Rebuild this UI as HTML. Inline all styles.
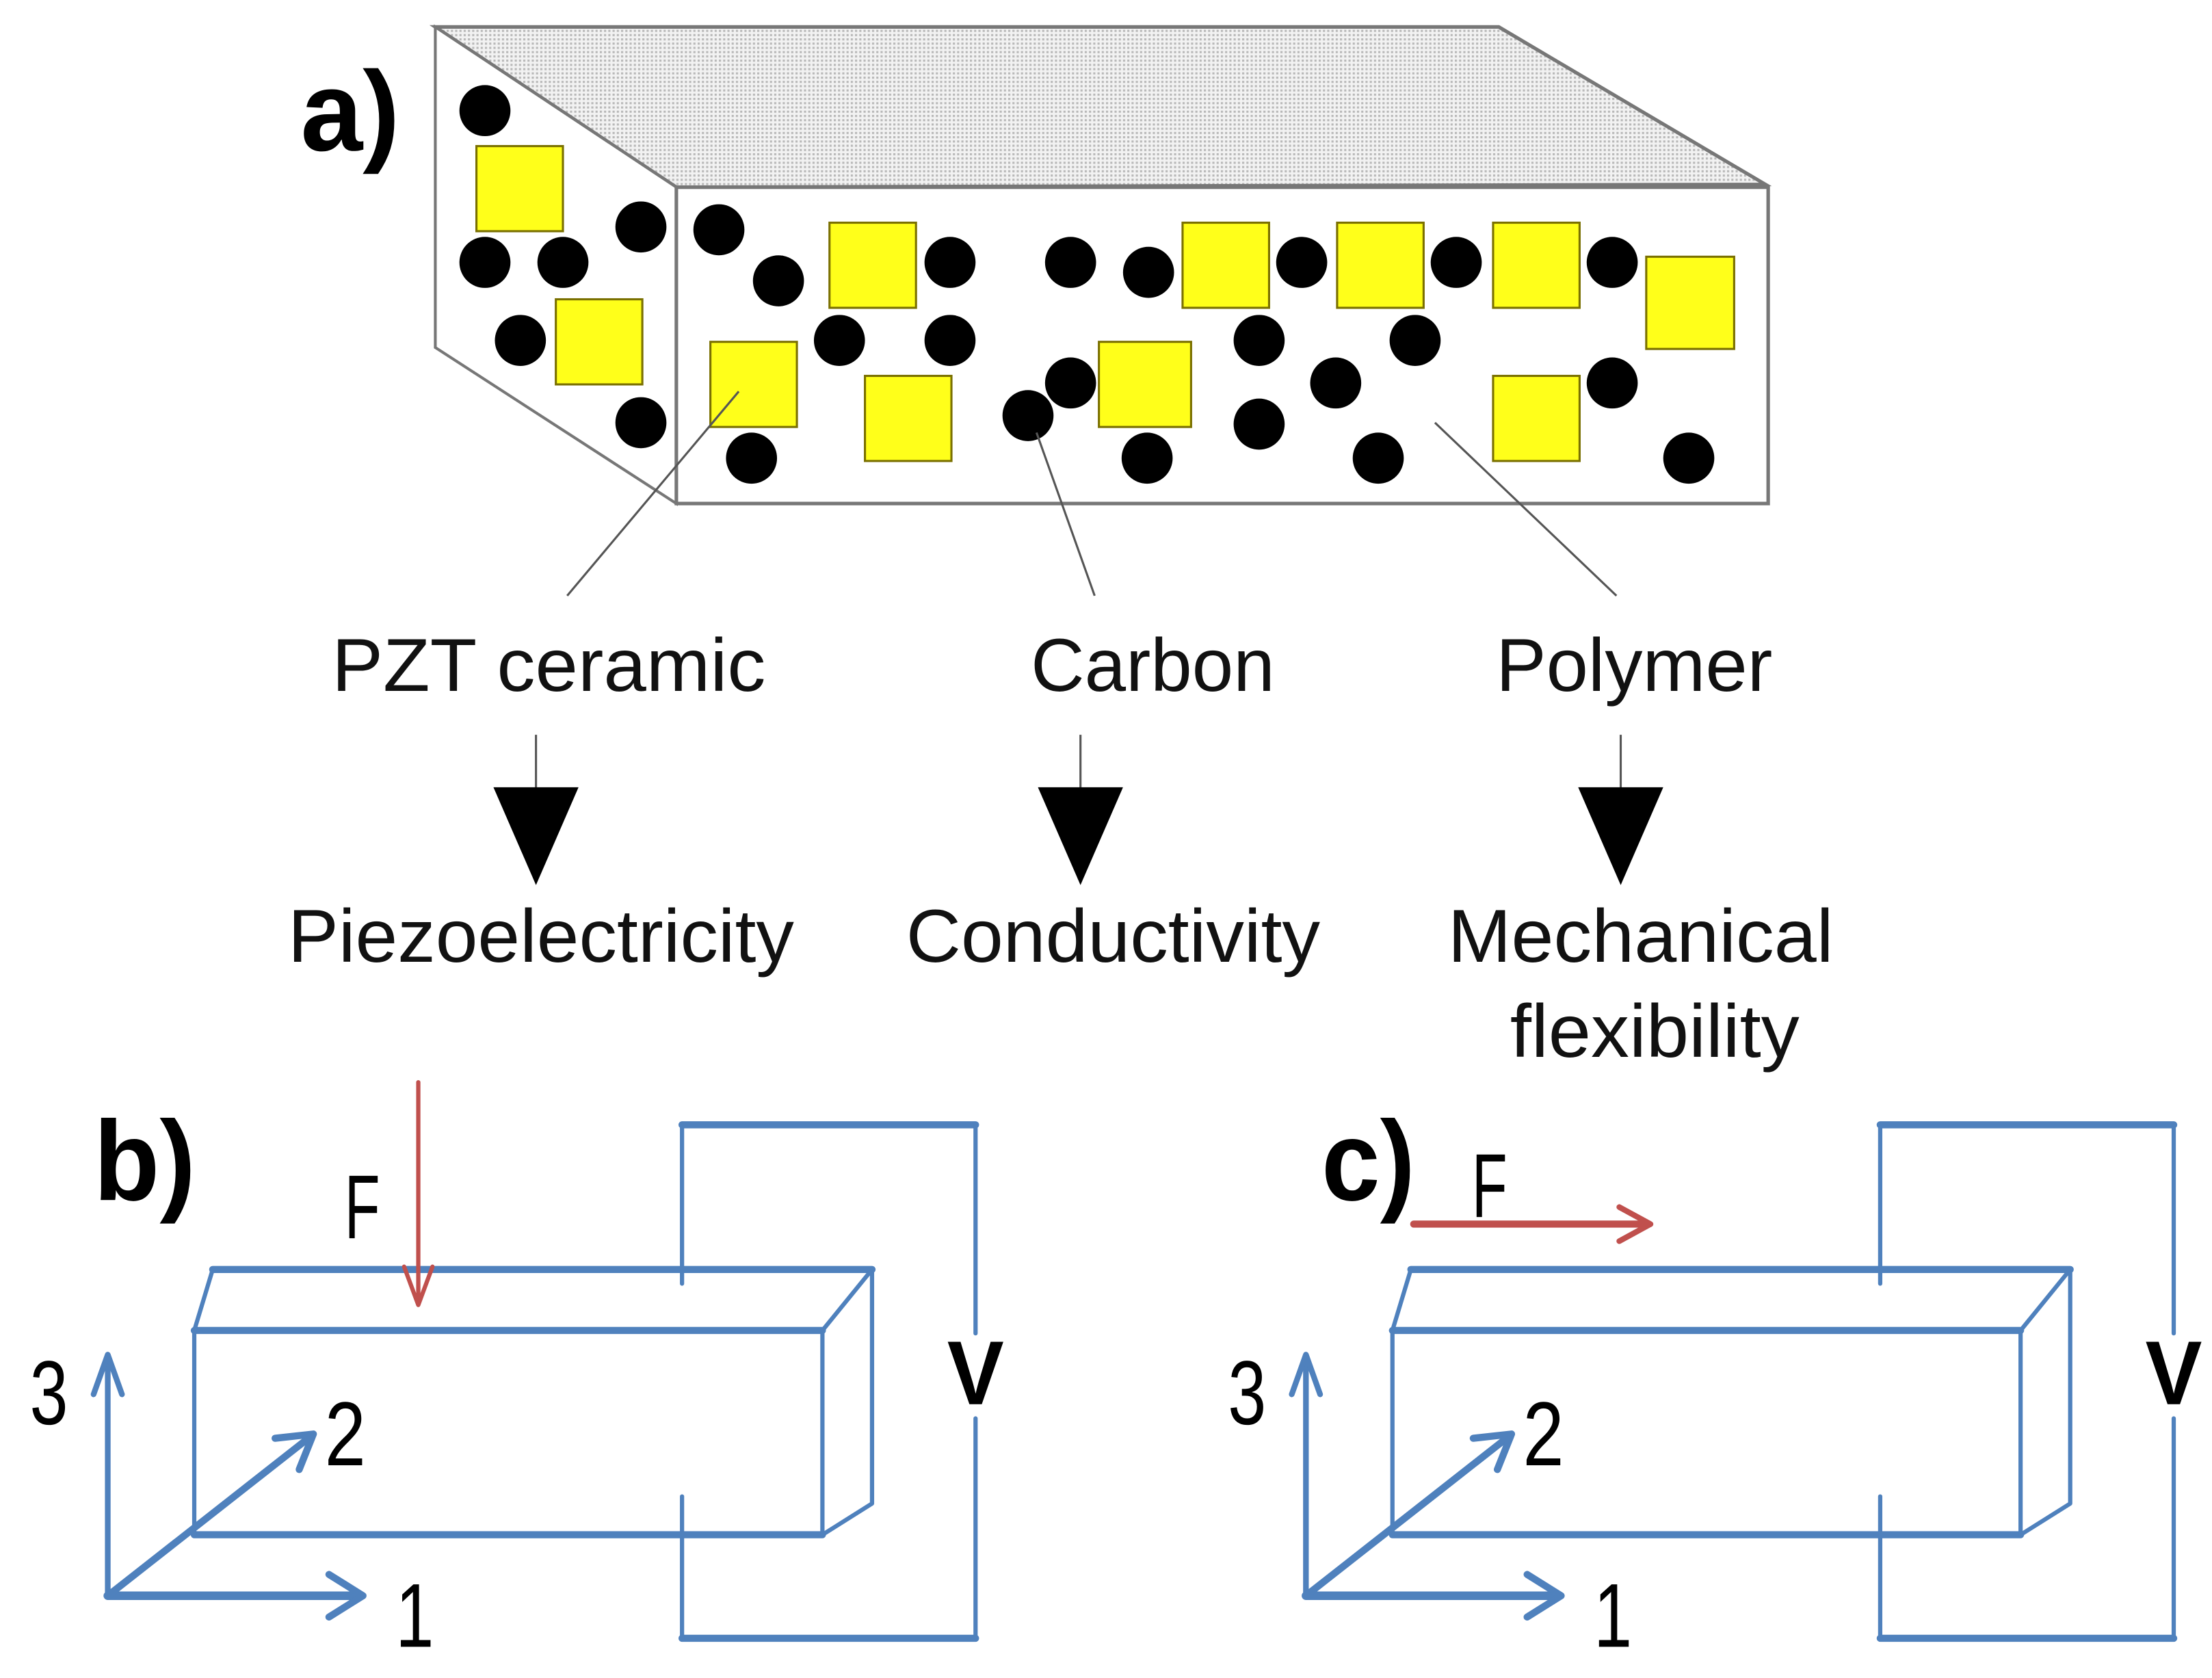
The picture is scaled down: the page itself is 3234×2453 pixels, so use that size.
<!DOCTYPE html>
<html><head><meta charset="utf-8"><style>
html,body{margin:0;padding:0;background:#fff;}
svg{display:block;}
.lbl{font-family:"Liberation Sans",Arial,sans-serif;font-size:53px;fill:#111;}
.bold{font-family:"Liberation Sans",sans-serif;font-weight:bold;font-size:80px;fill:#000;}
.num{font-family:"Liberation Sans",sans-serif;font-size:64px;fill:#000;}
</style></head><body>
<svg width="3234" height="2453" viewBox="0 0 1560 1183" preserveAspectRatio="none" xmlns="http://www.w3.org/2000/svg">
<defs>
<pattern id="dots" width="3" height="3" patternUnits="userSpaceOnUse">
<rect width="3" height="3" fill="#f2f2f2"/><rect width="1.5" height="1.5" fill="#b8b8b8"/>
</pattern>
</defs>
<!-- a) box -->
<polygon points="307,19 1057,19 1245,130 477,132" fill="url(#dots)" stroke="#777" stroke-width="2.5"/>
<polygon points="307,19 477,132 477,355 307,245" fill="#fff" stroke="#777" stroke-width="2"/>
<rect x="477" y="132" width="770" height="223" fill="#fff" stroke="#777" stroke-width="2.5"/>
<g fill="#ffff1a" stroke="#7a7000" stroke-width="1.5">
<rect x="336" y="103" width="61" height="60"/>
<rect x="392" y="211" width="61" height="60"/>
<rect x="585" y="157" width="61" height="60"/>
<rect x="501" y="241" width="61" height="60"/>
<rect x="610" y="265" width="61" height="60"/>
<rect x="775" y="241" width="65" height="60"/>
<rect x="834" y="157" width="61" height="60"/>
<rect x="943" y="157" width="61" height="60"/>
<rect x="1053" y="157" width="61" height="60"/>
<rect x="1161" y="181" width="62" height="65"/>
<rect x="1053" y="265" width="61" height="60"/>
</g>
<g fill="#000">
<circle cx="342" cy="78" r="18"/><circle cx="342" cy="185" r="18"/><circle cx="397" cy="185" r="18"/>
<circle cx="452" cy="160" r="18"/><circle cx="367" cy="240" r="18"/><circle cx="452" cy="298" r="18"/>
<circle cx="507" cy="162" r="18"/><circle cx="549" cy="198" r="18"/><circle cx="670" cy="185" r="18"/>
<circle cx="592" cy="240" r="18"/><circle cx="670" cy="240" r="18"/><circle cx="530" cy="323" r="18"/>
<circle cx="755" cy="185" r="18"/><circle cx="810" cy="192" r="18"/><circle cx="755" cy="270" r="18"/>
<circle cx="725" cy="293" r="18"/><circle cx="809" cy="323" r="18"/><circle cx="888" cy="240" r="18"/>
<circle cx="918" cy="185" r="18"/><circle cx="998" cy="240" r="18"/><circle cx="942" cy="270" r="18"/>
<circle cx="888" cy="299" r="18"/><circle cx="972" cy="323" r="18"/><circle cx="1027" cy="185" r="18"/>
<circle cx="1137" cy="185" r="18"/><circle cx="1137" cy="270" r="18"/><circle cx="1191" cy="323" r="18"/>
</g>
<g stroke="#555" stroke-width="1.5">
<line x1="400" y1="420" x2="521" y2="276"/>
<line x1="772" y1="420" x2="731" y2="305"/>
<line x1="1140" y1="420" x2="1012" y2="298"/>
<line x1="378" y1="518" x2="378" y2="556"/>
<line x1="762" y1="518" x2="762" y2="556"/>
<line x1="1143" y1="518" x2="1143" y2="556"/>
</g>
<g fill="#000">
<polygon points="348,555 408,555 378,624"/>
<polygon points="732,555 792,555 762,624"/>
<polygon points="1113,555 1173,555 1143,624"/>
</g>
<text class="lbl" x="234" y="487" textLength="306" lengthAdjust="spacingAndGlyphs">PZT ceramic</text>
<text class="lbl" x="727" y="487" textLength="172" lengthAdjust="spacingAndGlyphs">Carbon</text>
<text class="lbl" x="1055" y="487" textLength="195" lengthAdjust="spacingAndGlyphs">Polymer</text>
<text class="lbl" x="203" y="678" textLength="357" lengthAdjust="spacingAndGlyphs">Piezoelectricity</text>
<text class="lbl" x="639" y="678" textLength="292" lengthAdjust="spacingAndGlyphs">Conductivity</text>
<text class="lbl" x="1021" y="678" textLength="272" lengthAdjust="spacingAndGlyphs">Mechanical</text>
<text class="lbl" x="1065" y="745" textLength="204" lengthAdjust="spacingAndGlyphs">flexibility</text>
<text class="bold" x="212" y="106" textLength="70" lengthAdjust="spacingAndGlyphs">a)</text>
<text class="bold" x="66" y="846" textLength="72" lengthAdjust="spacingAndGlyphs">b)</text>
<text class="bold" x="932" y="846" textLength="66" lengthAdjust="spacingAndGlyphs">c)</text>

<!-- b and c panels -->
<g id="pb" fill="none" stroke="#4f81bd" stroke-linecap="round" stroke-linejoin="round">
<path d="M481,905 V793" stroke-width="3"/>
<path d="M481,793 H688" stroke-width="5"/>
<path d="M688,793 V940" stroke-width="3"/>
<path d="M688,1000 V1155" stroke-width="3"/>
<path d="M688,1155 H481" stroke-width="5"/>
<path d="M481,1155 V1055" stroke-width="3"/>
<path d="M150,895 H615" stroke-width="5"/>
<path d="M137,938 H580" stroke-width="5"/>
<path d="M137,1082 H580" stroke-width="5"/>
<path d="M150,895 L137,938 V1082 M580,938 V1082 M580,938 L615,895 V1060 L580,1082" stroke-width="3"/>
<path d="M76,1125 V958" stroke-width="4"/>
<path d="M66,983 L76,955 L86,983" stroke-width="4"/>
<path d="M76,1125 H253" stroke-width="6"/>
<path d="M232,1110 L256,1125 L232,1140" stroke-width="5"/>
<path d="M76,1125 L220,1012" stroke-width="5"/>
<path d="M194,1014 L221,1011 L211,1036" stroke-width="5"/>
</g>
<use href="#pb" x="845"/>
<g class="num">
<text class="num" x="21" y="1004" textLength="27" lengthAdjust="spacingAndGlyphs">3</text>
<text class="num" x="229" y="1033" textLength="29" lengthAdjust="spacingAndGlyphs">2</text>
<text class="num" x="279" y="1161" textLength="27" lengthAdjust="spacingAndGlyphs">1</text>
<text class="num" x="243" y="873" textLength="25" lengthAdjust="spacingAndGlyphs">F</text>
<text class="num" x="866" y="1004" textLength="27" lengthAdjust="spacingAndGlyphs">3</text>
<text class="num" x="1074" y="1033" textLength="29" lengthAdjust="spacingAndGlyphs">2</text>
<text class="num" x="1124" y="1161" textLength="27" lengthAdjust="spacingAndGlyphs">1</text>
<text class="num" x="1038" y="858" textLength="25" lengthAdjust="spacingAndGlyphs">F</text>
</g>
<text class="bold" x="668" y="990" style="font-size:64px" textLength="40" lengthAdjust="spacingAndGlyphs">V</text>
<text class="bold" x="1513" y="990" style="font-size:64px" textLength="40" lengthAdjust="spacingAndGlyphs">V</text>
<!-- red arrows -->
<g fill="none" stroke="#c0504d" stroke-linecap="round" stroke-linejoin="round">
<path d="M295,763 V918" stroke-width="3"/>
<path d="M285,893 L295,920 L305,893" stroke-width="3"/>
<path d="M997,863 H1162" stroke-width="5"/>
<path d="M1142,851 L1164,863 L1142,875" stroke-width="4"/>
</g>
</svg>
</body></html>
